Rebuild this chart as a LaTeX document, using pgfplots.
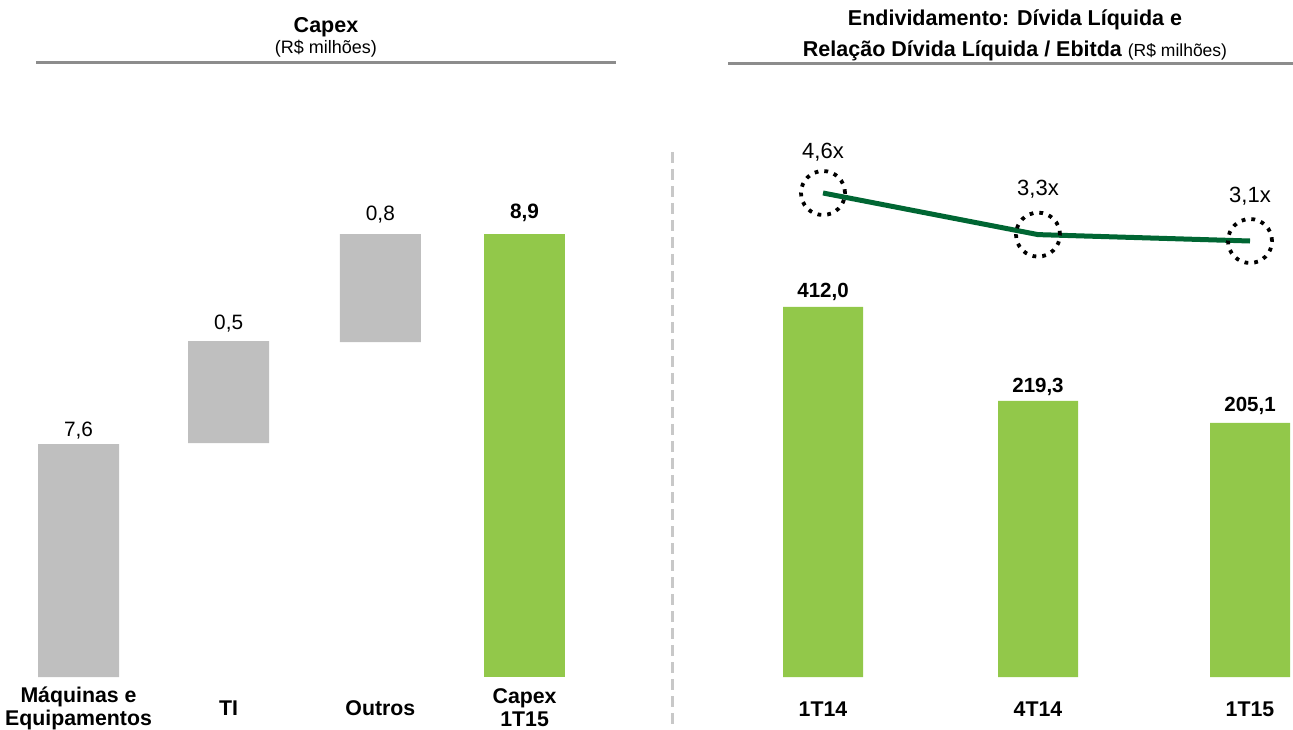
\documentclass[border=0pt]{standalone}
\usepackage{fontspec}
\setmainfont{Liberation Sans}
\usepackage{pgfplots}
\pgfplotsset{compat=1.18}
\definecolor{barg}{RGB}{146,200,74}
\definecolor{barx}{RGB}{191,191,191}
\definecolor{lineg}{RGB}{0,102,51}
\definecolor{rulec}{RGB}{140,140,140}
\definecolor{divc}{RGB}{200,200,200}
\begin{document}
\begin{tikzpicture}[x=1pt,y=1pt]
\path[use as bounding box] (0,0) rectangle (1293,729);
% titles
\node[font=\fontsize{21.5}{25}\selectfont\bfseries] at (326,702) {Capex};
\node[font=\fontsize{18}{21}\selectfont] at (326,680) {(R\$ milhões)};
\draw[rulec, line width=3pt] (36,666) -- (616,666);
\node[font=\fontsize{21.5}{25}\selectfont\bfseries] at (1015,709) {Endividamento: Dívida Líquida e};
\node at (1015,678) {\fontsize{21.5}{25}\selectfont\bfseries Relação Dívida Líquida / Ebitda \mdseries\fontsize{17.5}{20}\selectfont(R\$ milhões)};
\draw[rulec, line width=3pt] (728,665) -- (1293,665);
\draw[divc, line width=3pt, dash pattern=on 11pt off 6pt] (672,577) -- (672,0);

% left waterfall
\begin{axis}[at={(4.15pt,52pt)}, anchor=south west, scale only axis,
  width=594.8pt, height=497.75pt, xmin=-0.5, xmax=3.5, ymin=0, ymax=10,
  axis x line*=bottom, axis y line=none, x axis line style={draw=none},
  major tick length=0pt, ytick=\empty,
  xtick={0,1.01,2.03,3},
  xticklabels={{Máquinas e\\Equipamentos},TI,Outros,{Capex\\1T15}},
  xticklabel style={font=\fontsize{21.3}{23}\selectfont\bfseries, align=center, anchor=center, yshift=-31pt},
  ybar stacked, bar width=81pt, clip=false]
\addplot[draw=none, fill=none] coordinates {(0,0) (1.01,4.70) (2.03,6.73) (3,0)};
\addplot[draw=none, fill=barx] coordinates {(0,4.68) (1.01,2.05) (2.03,2.17) (3,0)};
\addplot[draw=none, fill=barg] coordinates {(0,0) (1.01,0) (2.03,0) (3,8.9)};
\node[font=\fontsize{20.8}{24}\selectfont, anchor=base, yshift=8pt] at (axis cs:0,4.68) {7,6};
\node[font=\fontsize{20.8}{24}\selectfont, anchor=base, yshift=12pt] at (axis cs:1.01,6.75) {0,5};
\node[font=\fontsize{20.8}{24}\selectfont, anchor=base, yshift=14pt] at (axis cs:2.03,8.9) {0,8};
\node[font=\fontsize{20.8}{24}\selectfont\bfseries, anchor=base, yshift=16pt] at (axis cs:3,8.9) {8,9};
\end{axis}

% right bars
\begin{axis}[at={(737.6pt,52pt)}, anchor=south west, scale only axis,
  width=555.1pt, height=538.9pt, xmin=-0.4, xmax=2.2, ymin=0, ymax=600,
  axis x line*=bottom, axis y line=none, x axis line style={draw=none},
  major tick length=0pt, ytick=\empty,
  xtick={0,1.007,2}, xticklabels={1T14,4T14,1T15},
  xticklabel style={font=\fontsize{21.3}{23}\selectfont\bfseries, anchor=center, yshift=-32pt},
  ybar, bar width=80pt, clip=false]
\addplot[draw=none, fill=barg] coordinates {(0,412) (1.007,307.3) (2,282.8)};
\node[font=\fontsize{20.5}{24}\selectfont\bfseries, anchor=base, yshift=9.5pt] at (axis cs:0,412) {412,0};
\node[font=\fontsize{20.5}{24}\selectfont\bfseries, anchor=base, yshift=8pt] at (axis cs:1.007,307.3) {219,3};
\node[font=\fontsize{20.5}{24}\selectfont\bfseries, anchor=base, yshift=11pt] at (axis cs:2,282.8) {205,1};
\end{axis}

% right line
\begin{axis}[at={(737.6pt,52pt)}, anchor=south west, scale only axis,
  width=555.1pt, height=538.9pt, xmin=-0.4, xmax=2.2, ymin=-10.525, ymax=6.316,
  hide axis, clip=false]
\addplot[lineg, line width=5pt, mark=none] coordinates {(0,4.6) (1.007,3.3) (2,3.1)};
\addplot[only marks, mark=o, mark size=22pt, mark options={draw=black, line width=3.8pt, dash pattern=on 3.8pt off 6pt}] coordinates {(0,4.6) (1.007,3.3) (2,3.1)};
\node[font=\fontsize{22}{26}\selectfont, anchor=center, yshift=41pt] at (axis cs:0,4.6) {4,6x};
\node[font=\fontsize{22}{26}\selectfont, anchor=center, yshift=45.6pt] at (axis cs:1.007,3.3) {3,3x};
\node[font=\fontsize{22}{26}\selectfont, anchor=center, yshift=45pt] at (axis cs:2,3.1) {3,1x};
\end{axis}
\end{tikzpicture}
\end{document}
